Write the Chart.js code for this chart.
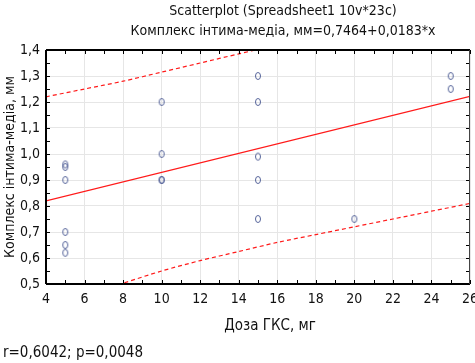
<!DOCTYPE html>
<html>
<head>
<meta charset="utf-8">
<script src="https://cdn.jsdelivr.net/npm/chart.js@4/dist/chart.umd.min.js"></script>
<style>
  html, body { margin: 0; padding: 0; background: #fff; }
  #wrap { position: relative; width: 475px; height: 363px; font-family: "Liberation Sans Narrow", "DejaVu Sans Condensed", sans-serif; color: #111; }
  #chart { position: absolute; left: 0; top: 0; }
  .txt { position: absolute; white-space: nowrap; }
  #t1 { left: 0; width: 566px; text-align: center; top: 2px; font-size: 14px; }
  #t2 { left: 0; width: 566px; text-align: center; top: 22px; font-size: 14px; }
  #xt { left: 0; width: 540px; text-align: center; top: 316px; font-size: 15px; }
  #note { left: 3px; top: 343px; font-size: 15px; }
</style>
</head>
<body>
<div id="wrap">
  <canvas id="chart" width="475" height="363"></canvas>
  <div class="txt" id="t1">Scatterplot (Spreadsheet1 10v*23c)</div>
  <div class="txt" id="t2">Комплекс інтима-медіа, мм=0,7464+0,0183*x</div>
  <div class="txt" id="xt">Доза ГКС, мг</div>
  <div class="txt" id="note">r=0,6042; p=0,0048</div>
</div>
<script>
// observed cases
const dose = [5, 5, 5, 5, 5, 5, 10, 10, 10, 10, 15, 15, 15, 15, 15, 20, 25, 25];
const imt = [0.96, 0.95, 0.90, 0.70, 0.65, 0.62, 1.20, 1.00, 0.90, 0.90, 1.30, 1.20, 0.99, 0.90, 0.75, 0.75, 1.30, 1.25];

// fitted line y = 0.7464 + 0.0183x, read at the axis ends
const fitX = [4, 26];
const fitY = [0.82, 1.222];

// 95% bands
const upperX = [4, 6, 8, 10, 12, 14, 16];
const upperY = [1.22, 1.25, 1.28, 1.315, 1.35, 1.385, 1.42];
const lowerX = [6, 8, 10, 12, 14, 16, 18, 20, 22, 24, 26];
const lowerY = [0.455, 0.503, 0.55, 0.59, 0.625, 0.66, 0.69, 0.72, 0.75, 0.78, 0.81];

const xMin = 4, xMax = 26;
const yMin = 0.5, yMax = 1.4;

const pairs = (xs, ys) => xs.map((x, i) => ({ x, y: ys[i] }));
const comma = (v) => String(v).replace('.', ',');
const FONT = '"Liberation Sans Narrow", "DejaVu Sans Condensed", sans-serif';

// small upright ellipse, like the "o" markers of the original
const marker = document.createElement('canvas');
marker.width = 8; marker.height = 10;
(() => {
    const c = marker.getContext('2d');
    c.strokeStyle = '#56649a';
    c.lineWidth = 1;
    c.beginPath();
    c.ellipse(4, 5, 2.5, 3.5, 0, 0, Math.PI * 2);
    c.stroke();
})();

const isMajorY = (v) => Math.abs(Math.round(v * 10) - v * 10) < 1e-6;

// frame on four sides with inward ticks
const frame = {
    id: 'frame',
    afterDatasetsDraw(chart) {
        const { ctx, chartArea: a, scales } = chart;
        ctx.save();
        ctx.strokeStyle = '#000';
        ctx.lineWidth = 1;
        ctx.beginPath();
        scales.x.ticks.forEach((t) => {
            const px = Math.round(scales.x.getPixelForValue(t.value)) + 0.5;
            ctx.moveTo(px, a.bottom); ctx.lineTo(px, a.bottom - 4);
            ctx.moveTo(px, a.top); ctx.lineTo(px, a.top + 4);
        });
        scales.y.ticks.forEach((t) => {
            const py = Math.round(scales.y.getPixelForValue(t.value)) + 0.5;
            ctx.moveTo(a.left, py); ctx.lineTo(a.left + 4, py);
            ctx.moveTo(a.right, py); ctx.lineTo(a.right - 4, py);
        });
        ctx.stroke();
        ctx.lineWidth = 2;
        ctx.beginPath();
        ctx.moveTo(a.left, a.top); ctx.lineTo(a.right, a.top);
        ctx.moveTo(a.left, a.top); ctx.lineTo(a.left, a.bottom);
        ctx.moveTo(a.left, a.bottom); ctx.lineTo(a.right, a.bottom);
        ctx.stroke();
        ctx.lineWidth = 1;
        ctx.strokeStyle = '#444';
        ctx.beginPath();
        ctx.moveTo(a.right - 0.5, a.top); ctx.lineTo(a.right - 0.5, a.bottom);
        ctx.stroke();
        ctx.restore();
    }
};

new Chart(document.getElementById('chart'), {
    type: 'scatter',
    data: {
        datasets: [
            { data: pairs(dose, imt), pointStyle: marker, pointRadius: 4, pointHoverRadius: 4, order: 0 },
            { data: pairs(fitX, fitY), showLine: true, borderColor: '#ff1a1a', borderWidth: 1.2, pointRadius: 0, order: 1 },
            { data: pairs(upperX, upperY), showLine: true, borderColor: '#ff1a1a', borderWidth: 1.2, borderDash: [4, 3], pointRadius: 0, tension: 0.3, order: 1 },
            { data: pairs(lowerX, lowerY), showLine: true, borderColor: '#ff1a1a', borderWidth: 1.2, borderDash: [4, 3], pointRadius: 0, tension: 0.3, order: 1 }
        ]
    },
    options: {
        responsive: false,
        animation: false,
        events: [],
        layout: { padding: { top: 50, right: 5, left: 0, bottom: 0 } },
        plugins: { legend: { display: false }, tooltip: { enabled: false } },
        scales: {
            x: {
                type: 'linear', min: xMin, max: xMax,
                border: { display: false },
                grid: {
                    drawTicks: false,
                    color: (c) => (c.tick && c.tick.value % 2 === 0 ? '#e6e6e6' : 'rgba(0,0,0,0)')
                },
                ticks: {
                    stepSize: 1, autoSkip: false, maxRotation: 0, padding: 7,
                    color: '#111', font: { family: FONT, size: 14 },
                    callback: (v) => (v % 2 === 0 ? String(v) : '')
                },
                afterFit: (s) => { s.height = 79; s.paddingLeft = 0; s.paddingRight = 0; }
            },
            y: {
                type: 'linear', min: yMin, max: yMax,
                border: { display: false },
                grid: {
                    drawTicks: false,
                    color: (c) => (c.tick && isMajorY(c.tick.value) ? '#e6e6e6' : 'rgba(0,0,0,0)')
                },
                ticks: {
                    stepSize: 0.05, autoSkip: false, padding: 6,
                    color: '#111', font: { family: FONT, size: 14 },
                    callback: (v) => (isMajorY(v) ? comma(v.toFixed(1)) : '')
                },
                title: {
                    display: true, text: 'Комплекс інтима-медіа, мм',
                    color: '#111', font: { family: FONT, size: 14 }, padding: { top: 2, bottom: 0 }
                },
                afterFit: (s) => { s.width = 46; s.paddingTop = 0; s.paddingBottom = 0; }
            }
        }
    },
    plugins: [frame]
});
</script>
</body>
</html>
